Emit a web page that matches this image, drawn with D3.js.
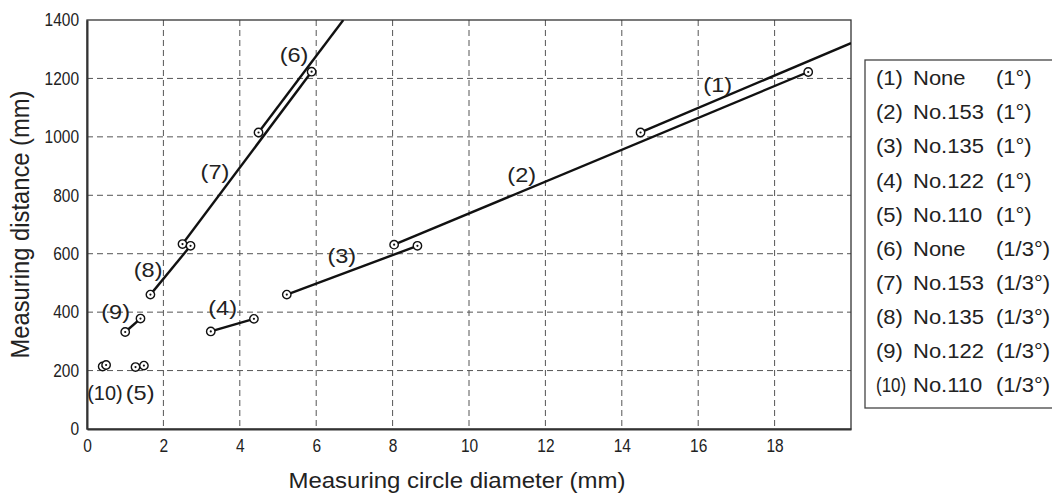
<!DOCTYPE html>
<html>
<head>
<meta charset="utf-8">
<script src="https://cdn.jsdelivr.net/npm/d3@7"></script>
<style>
  body { margin: 0; background: #fff; }
  text { font-family: "Liberation Sans", Arial, sans-serif; fill: #222; }
</style>
</head>
<body>
<svg id="chart" width="1052" height="494"></svg>
<script>
// Data
const seriesIds = ["(1)", "(2)", "(3)", "(4)", "(5)", "(6)", "(7)", "(8)", "(9)", "(10)"];
const filters = ["None", "No.153", "No.135", "No.122", "No.110", "None", "No.153", "No.135", "No.122", "No.110"];
const angles = ["(1°)", "(1°)", "(1°)", "(1°)", "(1°)", "(1/3°)", "(1/3°)", "(1/3°)", "(1/3°)", "(1/3°)"];
// end points (diameter mm, distance mm)
const startX = [14.49, 8.04, 5.23, 3.24, 1.27, 4.49, 2.50, 1.66, 1.00, 0.41];
const startY = [1015, 631, 460, 334, 212, 1015, 633, 460, 332, 214];
const endX   = [20.0, 18.88, 8.65, 4.37, 1.49, 6.71, 5.88, 2.71, 1.40, 0.50];
const endY   = [1321, 1222, 627, 377, 217, 1400, 1223, 627, 378, 219];
const endMarked = [false, true, true, true, true, false, true, true, true, true];
// label anchors (data units)
const labelX = [16.51, 11.38, 6.67, 3.55, 1.39, 5.42, 3.35, 1.60, 0.75, 0.47];
const labelY = [1179, 871, 593, 414, 125, 1281, 882, 545, 403, 125];
const xTicks = [0, 2, 4, 6, 8, 10, 12, 14, 16, 18];
const yTicks = [0, 200, 400, 600, 800, 1000, 1200, 1400];

const svg = d3.select("#chart");
const margin = {left: 87, top: 20, right: 201, bottom: 65};
const width = 1052 - margin.left - margin.right,
      height = 494 - margin.top - margin.bottom;

const x = d3.scaleLinear().domain([0, 20]).range([0, width]);
const y = d3.scaleLinear().domain([0, 1400]).range([height, 0]);

// stretch text horizontally to match the reference's wide lettering
function stretch(sel, k) {
    sel.each(function() {
        const w = this.getComputedTextLength();
        d3.select(this).attr("textLength", w * k).attr("lengthAdjust", "spacingAndGlyphs");
    });
}

const g = svg.append("g").attr("transform", `translate(${margin.left},${margin.top})`);

svg.append("defs").append("clipPath").attr("id", "clip")
    .append("rect").attr("width", width).attr("height", height);

// grid
g.append("g").selectAll("line").data(xTicks.filter(d => d > 0)).enter().append("line")
    .attr("x1", d => x(d)).attr("x2", d => x(d))
    .attr("y1", 0).attr("y2", height)
    .attr("stroke", "#555").attr("stroke-width", 1).attr("stroke-dasharray", "6,4");
g.append("g").selectAll("line").data(yTicks.filter(d => d > 0 && d < 1400)).enter().append("line")
    .attr("x1", 0).attr("x2", width)
    .attr("y1", d => y(d)).attr("y2", d => y(d))
    .attr("stroke", "#555").attr("stroke-width", 1).attr("stroke-dasharray", "6,4");

// frame
g.append("rect").attr("width", width).attr("height", height)
    .attr("fill", "none").attr("stroke", "#333").attr("stroke-width", 1.3);

// axes
const xAxis = g.append("g").attr("transform", `translate(0,${height})`)
    .call(d3.axisBottom(x).tickValues(xTicks).tickSize(0).tickPadding(10).tickFormat(d3.format("d")));
const yAxis = g.append("g")
    .call(d3.axisLeft(y).tickValues(yTicks).tickSize(0).tickPadding(8).tickFormat(d3.format("d")));
[xAxis, yAxis].forEach(a => {
    a.select(".domain").attr("stroke", "#333").attr("stroke-width", 2);
    a.selectAll("text").attr("font-size", 18).attr("fill", "#222")
        .style("font-family", "'Liberation Sans', Arial, sans-serif");
    stretch(a.selectAll("text"), 0.86);
});

// series lines
const plot = g.append("g").attr("clip-path", "url(#clip)");
const segs = seriesIds.map((id, i) => ({id, i}));
plot.selectAll("line.seg").data(segs).enter().append("line")
    .attr("class", "seg")
    .attr("x1", d => x(startX[d.i])).attr("y1", d => y(startY[d.i]))
    .attr("x2", d => x(endX[d.i])).attr("y2", d => y(endY[d.i]))
    .attr("stroke", "#111").attr("stroke-width", 2.4);

// markers
const marks = [];
segs.forEach(d => {
    marks.push([startX[d.i], startY[d.i]]);
    if (endMarked[d.i]) marks.push([endX[d.i], endY[d.i]]);
});
const mk = g.append("g").selectAll("g").data(marks).enter().append("g")
    .attr("transform", d => `translate(${x(d[0])},${y(d[1])})`);
mk.append("circle").attr("r", 4.2).attr("fill", "#fff").attr("stroke", "#111").attr("stroke-width", 1.4);
mk.append("circle").attr("r", 1.1).attr("fill", "#111");

// series labels
const labs = g.append("g").selectAll("text").data(segs).enter().append("text")
    .attr("x", d => x(labelX[d.i])).attr("y", d => y(labelY[d.i]))
    .attr("text-anchor", "middle").attr("dy", "0.35em")
    .attr("font-size", 21)
    .text(d => d.id);
stretch(labs.filter(d => d.id !== "(10)"), 1.12);
stretch(labs.filter(d => d.id === "(10)"), 0.95);

// axis titles
const xt = svg.append("text")
    .attr("x", margin.left + width / 2 - 12).attr("y", 488)
    .attr("text-anchor", "middle").attr("font-size", 22)
    .text("Measuring circle diameter (mm)");
stretch(xt, 1.09);
svg.append("text")
    .attr("transform", `translate(29,${margin.top + height / 2}) scale(1.15,1) rotate(-90)`)
    .attr("text-anchor", "middle").attr("font-size", 23)
    .attr("textLength", 268).attr("lengthAdjust", "spacingAndGlyphs")
    .text("Measuring distance (mm)");

// legend
const legend = svg.append("g");
legend.append("rect").attr("x", 865).attr("y", 60).attr("width", 200).attr("height", 348)
    .attr("fill", "#fff").attr("stroke", "#444").attr("stroke-width", 1.3);
const rowY = d3.scalePoint().domain(d3.range(seriesIds.length)).range([78.3, 385]);
const rows = legend.selectAll("g.row").data(segs).enter().append("g")
    .attr("class", "row").attr("transform", d => `translate(0,${rowY(d.i)})`);
const c1 = rows.append("text").attr("x", 876).attr("dy", "0.35em").attr("font-size", 20).text(d => d.id);
const c2 = rows.append("text").attr("x", 913).attr("dy", "0.35em").attr("font-size", 20).text(d => filters[d.i]);
const c3 = rows.append("text").attr("x", 996).attr("dy", "0.35em").attr("font-size", 20).text(d => angles[d.i]);
stretch(c1.filter(d => d.id !== "(10)"), 1.1);
stretch(c1.filter(d => d.id === "(10)"), 0.85);
stretch(c2, 1.1);
stretch(c3, 1.1);
</script>
</body>
</html>
